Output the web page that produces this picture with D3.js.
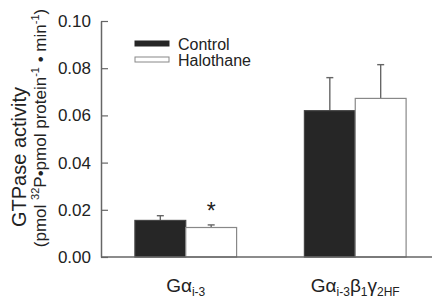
<!DOCTYPE html>
<html>
<head>
<meta charset="utf-8">
<script src="https://cdn.jsdelivr.net/npm/d3@7"></script>
<style>
  body { margin: 0; background: #fff; }
  svg text { font-family: "Liberation Sans", Arial, sans-serif; fill: #222; }
</style>
</head>
<body>
<div id="chart"></div>
<script>
// GTPase activity, control vs halothane
const categories = ['Gai3', 'Gai3b1g2HF'];
const seriesNames = ['Control', 'Halothane'];
const controlValues = [0.0155, 0.0620];
const controlErrors = [0.0020, 0.0140];
const halothaneValues = [0.0125, 0.0672];
const halothaneErrors = [0.0011, 0.0143];
const significant = [false, true, false, false]; // control1, halo1, control2, halo2
const yTicks = [0, 0.02, 0.04, 0.06, 0.08, 0.10];

const width = 434, height = 302;
const axisColor = '#666';

const svg = d3.select('#chart').append('svg')
    .attr('width', width)
    .attr('height', height);

// Scales
const x = d3.scaleBand().domain(categories).range([101, 440])
    .paddingInner(0.4).paddingOuter(0.2);
const xs = d3.scaleBand().domain(seriesNames).range([0, x.bandwidth()]);
const y = d3.scaleLinear().domain([0, 0.10]).range([257, 21]);

// Flatten bars
const bars = [];
categories.forEach((c, i) => {
    bars.push({ cat: c, series: 'Control', value: controlValues[i], err: controlErrors[i] });
    bars.push({ cat: c, series: 'Halothane', value: halothaneValues[i], err: halothaneErrors[i] });
});
bars.forEach((b, i) => { b.sig = significant[i]; });

// Error bars (drawn first so the bar sits over the stem)
const errG = svg.append('g').attr('stroke', '#666').attr('stroke-width', 1.4);
bars.forEach(b => {
    const cx = x(b.cat) + xs(b.series) + xs.bandwidth() / 2;
    errG.append('line')
        .attr('x1', cx).attr('x2', cx)
        .attr('y1', y(b.value)).attr('y2', y(b.value + b.err));
    errG.append('line')
        .attr('x1', cx - 3.5).attr('x2', cx + 3.5)
        .attr('y1', y(b.value + b.err)).attr('y2', y(b.value + b.err));
});

// Bars
svg.append('g').selectAll('rect')
    .data(bars)
    .enter().append('rect')
    .attr('x', d => x(d.cat) + xs(d.series))
    .attr('y', d => y(d.value))
    .attr('width', xs.bandwidth())
    .attr('height', d => y(0) - y(d.value))
    .attr('fill', d => d.series === 'Control' ? '#262626' : '#fff')
    .attr('stroke', d => d.series === 'Control' ? '#444' : '#888')
    .attr('stroke-width', 1.2);

// Significance star
svg.append('g').selectAll('text')
    .data(bars.filter(b => b.sig))
    .enter().append('text')
    .attr('x', d => x(d.cat) + xs(d.series) + xs.bandwidth() / 2)
    .attr('y', d => y(d.value + d.err) - 6)
    .attr('text-anchor', 'middle')
    .attr('font-size', '23px')
    .text('*');

// Y axis
const yAxis = svg.append('g')
    .attr('transform', 'translate(101,0)')
    .call(d3.axisLeft(y).tickValues(yTicks).tickFormat(d3.format('.2f'))
        .tickSizeInner(-7).tickSizeOuter(0).tickPadding(10));
yAxis.select('.domain').attr('stroke', axisColor).attr('stroke-width', 1.5);
yAxis.selectAll('.tick line').attr('stroke', axisColor).attr('stroke-width', 1.2);
yAxis.selectAll('.tick text').attr('font-size', '17px').attr('fill', '#333')
    .style('font-family', '"Liberation Sans", Arial, sans-serif');

// X axis baseline
svg.append('line')
    .attr('x1', 101).attr('x2', 432)
    .attr('y1', y(0)).attr('y2', y(0))
    .attr('stroke', axisColor).attr('stroke-width', 1.5);

// Category labels with greek letters and subscripts
const catLabels = [
    [['G', 0], ['\u03b1', 0], ['i-3', 1]],
    [['G', 0], ['\u03b1', 0], ['i-3', 1], ['\u03b2', 0], ['1', 1], ['\u03b3', 0], ['2HF', 1]]
];
categories.forEach((c, i) => {
    const t = svg.append('text')
        .attr('x', x(c) + x.bandwidth() / 2)
        .attr('y', 292)
        .attr('text-anchor', 'middle')
        .attr('font-size', '19px');
    let shift = 0;
    catLabels[i].forEach(([s, sub]) => {
        const want = sub ? 4 : 0;
        const ts = t.append('tspan').text(s).attr('dy', want - shift);
        if (sub) ts.attr('font-size', '12px');
        shift = want;
    });
});

// Legend
const legend = svg.append('g');
seriesNames.forEach((s, i) => {
    legend.append('rect')
        .attr('x', 135).attr('y', 41 + i * 16)
        .attr('width', 34).attr('height', 5)
        .attr('fill', s === 'Control' ? '#262626' : '#fff')
        .attr('stroke', s === 'Control' ? '#262626' : '#888')
        .attr('stroke-width', 1);
    legend.append('text')
        .attr('x', 178).attr('y', 50 + i * 16)
        .attr('font-size', '16px')
        .text(s);
});

// Y axis title (two lines, rotated)
const title = svg.append('g').attr('transform', 'rotate(-90)');
title.append('text')
    .attr('x', -157).attr('y', 26)
    .attr('text-anchor', 'middle')
    .attr('font-size', '20px')
    .text('GTPase activity');
const t2 = title.append('text')
    .attr('x', -128).attr('y', 46)
    .attr('text-anchor', 'middle')
    .attr('font-size', '17px');
t2.append('tspan').text('(pmol ');
t2.append('tspan').text('32').attr('font-size', '11px').attr('dy', -7);
t2.append('tspan').text('P\u2022pmol protein').attr('dy', 7);
t2.append('tspan').text('-1').attr('font-size', '11px').attr('dy', -7);
t2.append('tspan').text(' \u2022 min').attr('dy', 7);
t2.append('tspan').text('-1').attr('font-size', '11px').attr('dy', -7);
t2.append('tspan').text(')').attr('dy', 7);
</script>
</body>
</html>
